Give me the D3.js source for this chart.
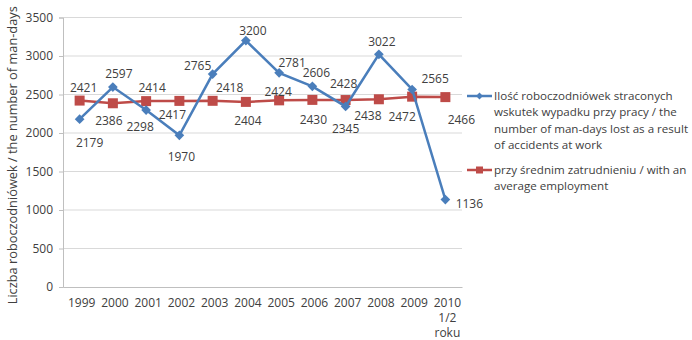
<!DOCTYPE html>
<html>
<head>
<meta charset="utf-8">
<script src="https://cdn.jsdelivr.net/npm/d3@7"></script>
<style>
  html, body { margin: 0; padding: 0; background: #fff; }
  svg { display: block; }
  text { font-family: "Open Sans", "Liberation Sans", sans-serif; fill: #404040; }
</style>
</head>
<body>
<svg id="chart" width="692" height="340"></svg>
<script>
// Years on the category axis (last one is the first half of 2010)
const categories = ["1999", "2000", "2001", "2002", "2003", "2004", "2005", "2006", "2007", "2008", "2009", "2010\n1/2\nroku"];
// Man-days lost due to accidents at work
const lostDays = [2179, 2597, 2298, 1970, 2765, 3200, 2781, 2606, 2345, 3022, 2565, 1136];
// Per average employment
const avgEmployment = [2421, 2386, 2414, 2417, 2418, 2404, 2424, 2430, 2428, 2438, 2472, 2466];
const yTicks = [0, 500, 1000, 1500, 2000, 2500, 3000, 3500];

const seriesNames = [
  "Ilość roboczodniówek straconych wskutek wypadku przy pracy / the number of man-days lost as a result of accidents at work",
  "przy średnim zatrudnieniu / with an average employment"
];
const yTitle = "Liczba roboczodniówek / the number of man-days";

// label offsets relative to each point (placement only)
const lostLabelOffset = [[10, 24], [6, -13], [-6, 17], [2, 21], [-15, -8], [7, -10], [13, -10], [4, -14], [0, 22], [3, -13], [23, -11], [24, 4]];
const avgLabelOffset = [[4, -13], [-4, 18], [6, -13], [-7, 14], [17, -13], [2, 19], [-1, -9], [1, 20], [-2, -16], [-11, 17], [-10, 20], [16, 23]];

const blue = "#4a7ebb", red = "#be4b48";
const svg = d3.select("#chart");
const m = { left: 63, right: 462, top: 17.5, bottom: 287 };

const x = d3.scaleBand().domain(categories).range([m.left, m.right]);
const y = d3.scaleLinear().domain([0, 3500]).range([m.bottom, m.top]);
const cx = d => x(d) + x.bandwidth() / 2;

// horizontal gridlines
svg.append("g").selectAll("line").data(yTicks.filter(t => t > 0)).join("line")
  .attr("x1", m.left).attr("x2", m.right)
  .attr("y1", d => y(d)).attr("y2", d => y(d))
  .attr("stroke", "#d9d9d9").attr("stroke-width", 1);

// y axis
const yAxis = svg.append("g").attr("transform", `translate(${m.left},0)`)
  .call(d3.axisLeft(y).tickValues(yTicks).tickFormat(d3.format("d")).tickSize(4).tickPadding(6));
yAxis.select(".domain").attr("stroke", "#bfbfbf");
yAxis.selectAll(".tick line").attr("stroke", "#bfbfbf");
yAxis.selectAll("text").style("font-size", "12px").attr("fill", "#404040");

// x axis
const xAxis = svg.append("g").attr("transform", `translate(0,${m.bottom})`)
  .call(d3.axisBottom(x).tickSize(0).tickPadding(11));
xAxis.select(".domain").attr("stroke", "#bfbfbf");
xAxis.selectAll(".tick text").each(function (d) {
  const t = d3.select(this);
  const parts = d.split("\n");
  t.text(null).style("font-size", "12px").attr("fill", "#404040");
  parts.forEach((p, i) => t.append("tspan").attr("x", 2).attr("dy", i === 0 ? "0.71em" : "15.2").text(p));
});

// y title
svg.append("text")
  .attr("transform", `translate(17,${(m.top + m.bottom) / 2 + 3}) rotate(-90)`)
  .attr("text-anchor", "middle")
  .style("font-size", "12.8px")
  .text(yTitle);

const line = d3.line().x((d, i) => cx(categories[i])).y(d => y(d));

// average employment series (red, squares)
svg.append("path").datum(avgEmployment).attr("d", line)
  .attr("fill", "none").attr("stroke", red).attr("stroke-width", 2.5);
svg.append("g").selectAll("rect").data(avgEmployment).join("rect")
  .attr("x", (d, i) => cx(categories[i]) - 5).attr("y", d => y(d) - 5)
  .attr("width", 10).attr("height", 10).attr("fill", red);

// lost man-days series (blue, diamonds)
svg.append("path").datum(lostDays).attr("d", line)
  .attr("fill", "none").attr("stroke", blue).attr("stroke-width", 2.5);
const diamond = d3.symbol().type(d3.symbolDiamond2).size(60);
svg.append("g").selectAll("path").data(lostDays).join("path")
  .attr("d", diamond)
  .attr("transform", (d, i) => `translate(${cx(categories[i])},${y(d)})`)
  .attr("fill", blue);

// data labels
function labels(values, offsets) {
  svg.append("g").selectAll("text").data(values).join("text")
    .attr("x", (d, i) => cx(categories[i]) + offsets[i][0])
    .attr("y", (d, i) => y(d) + offsets[i][1])
    .attr("text-anchor", "middle").attr("dy", "0.35em")
    .style("font-size", "12px")
    .text(d => d);
}
labels(avgEmployment, avgLabelOffset);
labels(lostDays, lostLabelOffset);

// legend
const legend = svg.append("g");
const legendItems = [
  { color: blue, lines: ["Ilość roboczodniówek straconych", "wskutek wypadku przy pracy / the", "number of man-days lost as a result", "of accidents at work"], y: 96, shape: "diamond" },
  { color: red, lines: ["przy średnim zatrudnieniu / with an", "average employment"], y: 170, shape: "square" }
];
legendItems.forEach(it => {
  legend.append("line").attr("x1", 467).attr("x2", 492).attr("y1", it.y).attr("y2", it.y)
    .attr("stroke", it.color).attr("stroke-width", 2.5);
  if (it.shape === "diamond") {
    legend.append("path").attr("d", d3.symbol().type(d3.symbolDiamond2).size(30))
      .attr("transform", `translate(479.5,${it.y})`).attr("fill", it.color);
  } else {
    legend.append("rect").attr("x", 476).attr("y", it.y - 3.5).attr("width", 7).attr("height", 7).attr("fill", it.color);
  }
  const t = legend.append("text").attr("x", 494).attr("y", it.y).style("font-size", "11.6px");
  it.lines.forEach((l, i) => t.append("tspan").attr("x", 494).attr("dy", i === 0 ? "0.35em" : "16.4").text(l));
});
</script>
</body>
</html>
